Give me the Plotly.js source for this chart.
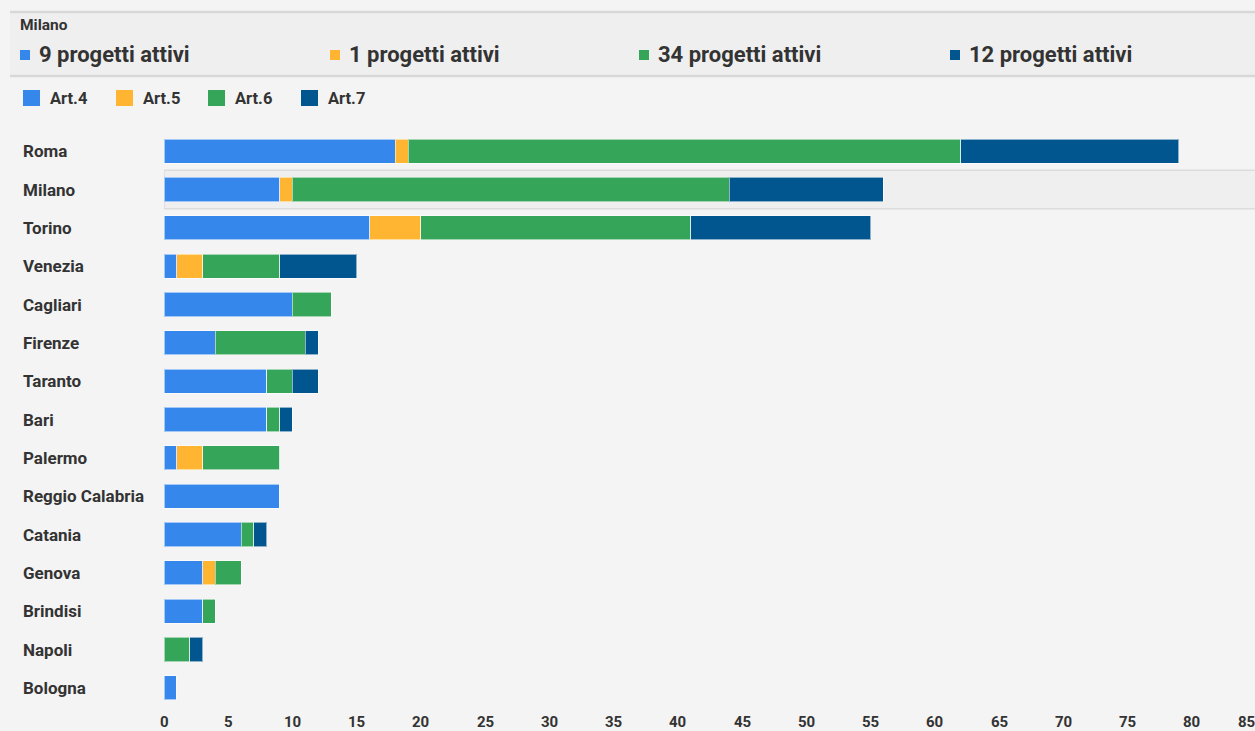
<!DOCTYPE html>
<html>
<head>
<meta charset="utf-8">
<script src="https://cdn.plot.ly/plotly-3.0.1.min.js"></script>
<style>
html,body{margin:0;padding:0;background:#f4f4f4;overflow:hidden;width:1255px;height:731px;}
#chart{width:1270px;height:731px;}
</style>
</head>
<body>
<div id="chart"></div>
<script>
const cities = ["Roma","Milano","Torino","Venezia","Cagliari","Firenze","Taranto","Bari","Palermo","Reggio Calabria","Catania","Genova","Brindisi","Napoli","Bologna"];
const art4 = [18, 9, 16, 1, 10, 4, 8, 8, 1, 9, 6, 3, 3, 0, 1];
const art5 = [1, 1, 4, 2, 0, 0, 0, 0, 2, 0, 0, 1, 0, 0, 0];
const art6 = [43, 34, 21, 6, 3, 7, 2, 1, 6, 0, 1, 2, 1, 2, 0];
const art7 = [17, 12, 14, 6, 0, 1, 2, 1, 0, 0, 1, 0, 0, 1, 0];
const seriesNames = ["Art.4","Art.5","Art.6","Art.7"];
const colors = ["#3687ec","#ffb532","#35a55a","#02568f"];
const highlighted = "Milano";
const xTicks = [0,5,10,15,20,25,30,35,40,45,50,55,60,65,70,75,80,85];

const W = 1270, H = 731, L = 164, R = 14, T = 132, B = 24;
const PW = W - L - R, PH = H - T - B;
const X = px => (px - L) / PW;
const Y = py => (H - B - py) / PH;

const seriesVals = [art4, art5, art6, art7];
const traces = seriesVals.map((vals, i) => ({
  type: "bar",
  orientation: "h",
  name: seriesNames[i],
  x: vals,
  y: cities,
  marker: {color: colors[i], line: {color: "rgba(255,255,255,0.55)", width: 1}},
  hoverinfo: "none",
  showlegend: false
}));

const font = "Roboto, 'Open Sans', Arial, sans-serif";
const shapes = [];
const annotations = [];

// highlight row
const hi = cities.indexOf(highlighted);
shapes.push({type:"rect", layer:"below", xref:"x", yref:"y", x0:0, x1:90, y0:hi-0.5, y1:hi+0.5,
  fillcolor:"#efefef", line:{color:"#dcdcdc", width:1.5}});

// header band
shapes.push({type:"rect", layer:"below", xref:"paper", yref:"paper", x0:X(10), x1:X(1270), y0:Y(76), y1:Y(12),
  fillcolor:"#efefef", line:{width:0}});
shapes.push({type:"line", xref:"paper", yref:"paper", x0:X(10), x1:X(1270), y0:Y(12), y1:Y(12), line:{color:"#d8d8d8", width:2.5}});
shapes.push({type:"line", xref:"paper", yref:"paper", x0:X(10), x1:X(1270), y0:Y(76), y1:Y(76), line:{color:"#d8d8d8", width:2.5}});

annotations.push({xref:"paper", yref:"paper", x:X(18), y:Y(25), xanchor:"left", yanchor:"middle", showarrow:false,
  text:"<b>" + highlighted + "</b>", font:{family:font, size:15.5, color:"#333"}});

const headerX = [20, 330, 639, 950];
seriesVals.forEach((vals, i) => {
  const x0 = headerX[i];
  shapes.push({type:"rect", xref:"paper", yref:"paper", x0:X(x0), x1:X(x0+10), y0:Y(60), y1:Y(50),
    fillcolor:colors[i], line:{width:0}});
  annotations.push({xref:"paper", yref:"paper", x:X(x0+17), y:Y(55), xanchor:"left", yanchor:"middle", showarrow:false,
    text:"<b>" + vals[hi] + " progetti attivi</b>", font:{family:font, size:22, color:"#333"}});
});

// legend
const legX = [23, 116, 208, 301];
seriesNames.forEach((n, i) => {
  const x0 = legX[i];
  shapes.push({type:"rect", xref:"paper", yref:"paper", x0:X(x0), x1:X(x0+17), y0:Y(106), y1:Y(90),
    fillcolor:colors[i], line:{width:0}});
  annotations.push({xref:"paper", yref:"paper", x:X(x0+25), y:Y(98.5), xanchor:"left", yanchor:"middle", showarrow:false,
    text:"<b>" + n + "</b>", font:{family:font, size:16.5, color:"#333"}});
});

// category labels (left-aligned)
cities.forEach(c => {
  annotations.push({xref:"paper", yref:"y", x:X(21), y:c, xanchor:"left", yanchor:"middle", showarrow:false,
    text:"<b>" + c + "</b>", font:{family:font, size:17, color:"#333"}});
});

// x tick labels (last one kept inside the view)
xTicks.forEach((t, i) => {
  const last = i === xTicks.length - 1;
  annotations.push({xref:"x", yref:"paper", x:t, y:Y(721.5), xanchor:last ? "right" : "center", yanchor:"middle",
    xshift: last ? -1 : 0, showarrow:false, borderpad:0, borderwidth:0,
    text:"<b>" + t + "</b>", font:{family:font, size:15, color:"#333"}});
});

const layout = {
  width: W, height: H,
  margin: {l:L, r:R, t:T, b:B, pad:0},
  paper_bgcolor: "#f4f4f4",
  plot_bgcolor: "#f4f4f4",
  barmode: "stack",
  bargap: 0.37,
  showlegend: false,
  font: {family: font, color: "#333"},
  xaxis: {
    range: [0, 85], tickvals: xTicks, showticklabels: false,
    showgrid: false, zeroline: false, showline: false, ticks: "",
    fixedrange: true
  },
  yaxis: {
    type: "category", categoryorder: "array", categoryarray: cities,
    autorange: "reversed", range: [cities.length - 0.5, -0.5],
    showticklabels: false, showgrid: false, zeroline: false, showline: false, ticks: "",
    fixedrange: true
  },
  shapes: shapes,
  annotations: annotations
};

Plotly.newPlot("chart", traces, layout, {displayModeBar: false, staticPlot: true});
</script>
</body>
</html>
